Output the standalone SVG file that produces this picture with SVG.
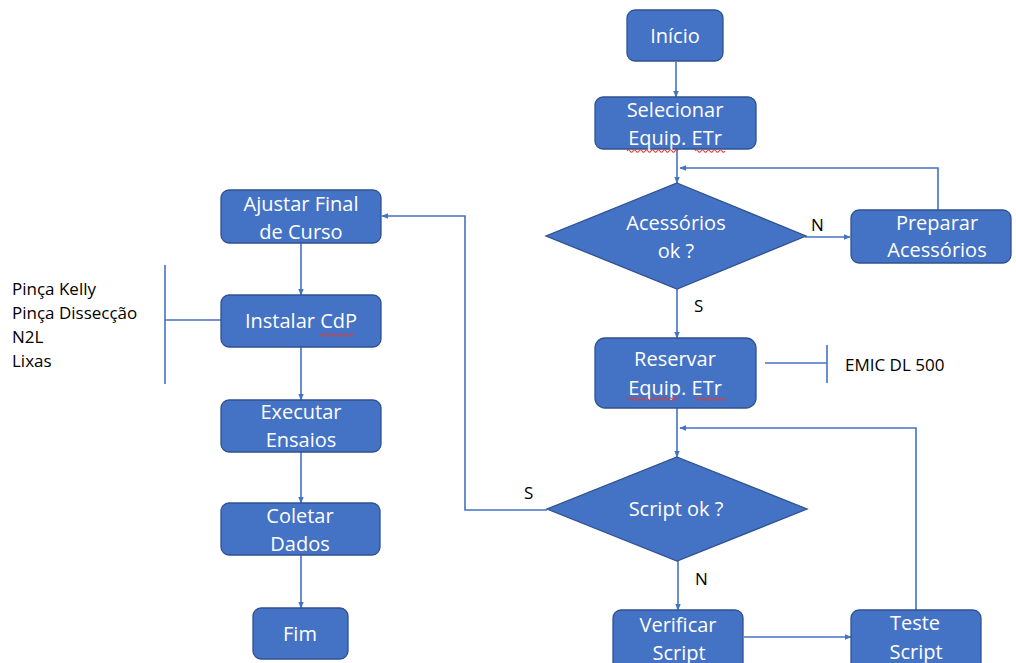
<svg xmlns="http://www.w3.org/2000/svg" width="1016" height="663" viewBox="0 0 1016 663">
  <defs>
    <marker id="arr" viewBox="0 0 10 10" refX="9" refY="5" markerWidth="7" markerHeight="7" orient="auto" markerUnits="userSpaceOnUse">
      <path d="M0,1 L10,5 L0,9 z" fill="#4472C4"/>
    </marker>
  </defs>
  <style>
    .box { fill: #4472C4; stroke: #2F528F; stroke-width: 1.3; }
    .t { fill: #ffffff; font-family: "Open Sans", Lato, sans-serif; font-size: 20px; text-anchor: middle; }
    .lbl { fill: #000000; font-family: "Open Sans", Lato, sans-serif; font-size: 17px; }
    .c { fill: none; stroke: #4472C4; stroke-width: 1.6; }
    .sq { fill: none; stroke: #e8392e; stroke-width: 1.1; }
  </style>
  <rect width="1016" height="663" fill="#ffffff"/>

  <g id="connectors">
    <line class="c" x1="676" y1="62" x2="676" y2="97" marker-end="url(#arr)"/>
    <line class="c" x1="677" y1="149" x2="677" y2="183" marker-end="url(#arr)"/>
    <polyline class="c" points="938,210 938,168 680,168" marker-end="url(#arr)"/>
    <line class="c" x1="805" y1="237" x2="850" y2="237" marker-end="url(#arr)"/>
    <line class="c" x1="677" y1="289" x2="677" y2="338" marker-end="url(#arr)"/>
    <line class="c" x1="765" y1="363" x2="827" y2="363"/>
    <line class="c" x1="827" y1="345" x2="827" y2="383"/>
    <line class="c" x1="677" y1="408" x2="677" y2="457" marker-end="url(#arr)"/>
    <polyline class="c" points="916,610 916,428 680,428" marker-end="url(#arr)"/>
    <line class="c" x1="678" y1="561" x2="678" y2="610" marker-end="url(#arr)"/>
    <line class="c" x1="744" y1="637" x2="851" y2="637" marker-end="url(#arr)"/>
    <polyline class="c" points="547,510 465,510 465,216 382,216" marker-end="url(#arr)"/>
    <line class="c" x1="301" y1="243" x2="301" y2="295" marker-end="url(#arr)"/>
    <line class="c" x1="165" y1="265" x2="165" y2="384"/>
    <line class="c" x1="165" y1="320" x2="221" y2="320"/>
    <line class="c" x1="301" y1="347" x2="301" y2="400" marker-end="url(#arr)"/>
    <line class="c" x1="301" y1="452" x2="301" y2="503" marker-end="url(#arr)"/>
    <line class="c" x1="301" y1="555" x2="301" y2="608" marker-end="url(#arr)"/>
  </g>

  <g id="edge-labels">
    <text class="lbl" x="811" y="231">N</text>
    <text class="lbl" x="694" y="312">S</text>
    <text class="lbl" x="524" y="499">S</text>
    <text class="lbl" x="695" y="585">N</text>
  </g>

  <g id="inicio">
    <rect class="box" x="627" y="10" width="96" height="51" rx="8"/>
    <text class="t" x="675" y="43">Início</text>
  </g>

  <g id="selecionar">
    <rect class="box" x="595" y="97" width="161" height="52" rx="8"/>
    <text class="t" x="675" y="117">Selecionar</text>
    <text class="t" x="675" y="145">Equip. ETr</text>
  </g>

  <g id="acessorios">
    <polygon class="box" points="677,183 806,236 677,289 546,236"/>
    <text class="t" x="676" y="230">Acessórios</text>
    <text class="t" x="676" y="258">ok ?</text>
  </g>

  <g id="preparar">
    <rect class="box" x="851" y="210" width="160" height="53" rx="8"/>
    <text class="t" x="937" y="230">Preparar</text>
    <text class="t" x="937" y="257">Acessórios</text>
  </g>

  <g id="reservar">
    <rect class="box" x="595" y="338" width="161" height="70" rx="10"/>
    <text class="t" x="675" y="366">Reservar</text>
    <text class="t" x="675" y="395">Equip. ETr</text>
  </g>

  <g id="emic">
    <text class="lbl" x="845" y="371">EMIC DL 500</text>
  </g>

  <g id="script-ok">
    <polygon class="box" points="677,457 807,509 677,561 547,509"/>
    <text class="t" x="676" y="516">Script ok ?</text>
  </g>

  <g id="verificar">
    <rect class="box" x="613" y="610" width="130" height="60" rx="8"/>
    <text class="t" x="678" y="632">Verificar</text>
    <text class="t" x="679" y="660">Script</text>
  </g>

  <g id="teste">
    <rect class="box" x="851" y="610" width="130" height="60" rx="8"/>
    <text class="t" x="915" y="630">Teste</text>
    <text class="t" x="916" y="659">Script</text>
  </g>

  <g id="ajustar">
    <rect class="box" x="221" y="190" width="160" height="53" rx="8"/>
    <text class="t" x="301" y="211">Ajustar Final</text>
    <text class="t" x="301" y="239">de Curso</text>
  </g>

  <g id="instalar">
    <rect class="box" x="221" y="295" width="160" height="52" rx="8"/>
    <text class="t" x="301" y="328">Instalar CdP</text>
  </g>

  <g id="ferramentas">
    <text class="lbl" x="12" y="295">Pinça Kelly</text>
    <text class="lbl" x="12" y="319">Pinça Dissecção</text>
    <text class="lbl" x="12" y="343">N2L</text>
    <text class="lbl" x="12" y="367">Lixas</text>
  </g>

  <g id="executar">
    <rect class="box" x="221" y="400" width="160" height="52" rx="8"/>
    <text class="t" x="301" y="419">Executar</text>
    <text class="t" x="301" y="447">Ensaios</text>
  </g>

  <g id="coletar">
    <rect class="box" x="221" y="503" width="159" height="52" rx="8"/>
    <text class="t" x="300" y="523">Coletar</text>
    <text class="t" x="300" y="551">Dados</text>
  </g>

  <g id="fim">
    <rect class="box" x="253" y="608" width="95" height="51" rx="8"/>
    <text class="t" x="300" y="641">Fim</text>
  </g>

  <!-- spell-check squiggles under abbreviations -->
  <g id="squiggles">
    <path class="sq" d="M627,151 q1.5,-2.5 3,0 t3,0 t3,0 t3,0 t3,0 t3,0 t3,0 t3,0 t3,0 t3,0 t3,0 t3,0 t3,0 t3,0 t3,0 t3,0 t3,0"/>
    <path class="sq" d="M695,151 q1.5,-2.5 3,0 t3,0 t3,0 t3,0 t3,0 t3,0 t3,0 t3,0 t3,0 t3,0"/>
    <path class="sq" d="M627,399 q1.5,-2.5 3,0 t3,0 t3,0 t3,0 t3,0 t3,0 t3,0 t3,0 t3,0 t3,0 t3,0 t3,0 t3,0 t3,0 t3,0 t3,0 t3,0"/>
    <path class="sq" d="M695,399 q1.5,-2.5 3,0 t3,0 t3,0 t3,0 t3,0 t3,0 t3,0 t3,0 t3,0 t3,0"/>
    <path class="sq" d="M320,335 q1.5,-2.5 3,0 t3,0 t3,0 t3,0 t3,0 t3,0 t3,0 t3,0 t3,0 t3,0 t3,0"/>
  </g>
</svg>
